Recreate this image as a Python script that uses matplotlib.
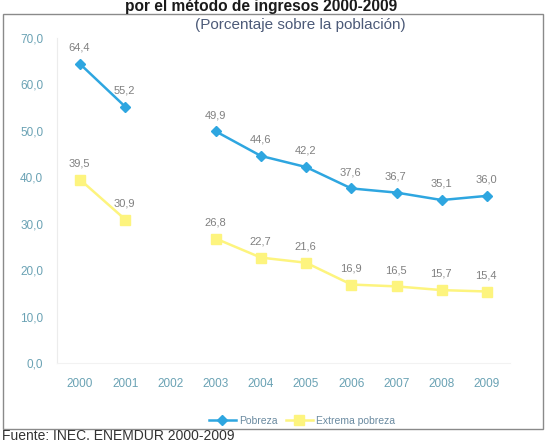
import numpy as np
import matplotlib
matplotlib.use("Agg")
import matplotlib.pyplot as plt
from matplotlib.patches import Rectangle

# data (2002 has no survey value)
years = [2000, 2001, 2002, 2003, 2004, 2005, 2006, 2007, 2008, 2009]
pobreza = [64.4, 55.2, np.nan, 49.9, 44.6, 42.2, 37.6, 36.7, 35.1, 36.0]
extrema = [39.5, 30.9, np.nan, 26.8, 22.7, 21.6, 16.9, 16.5, 15.7, 15.4]
yticks = [0, 10, 20, 30, 40, 50, 60, 70]

BLUE = '#2ea6e0'
YELLOW = '#fdf47e'
LABEL_GRAY = '#808080'
TICK_COL = '#6aa2b4'

W, H = 550, 443
fig = plt.figure(figsize=(W / 100, H / 100), dpi=100)
plt.rcParams['font.family'] = ['Liberation Sans', 'DejaVu Sans']

# outer frame of the pasted chart
fig.patches.append(Rectangle((3 / W, 1 - 429 / H), 540 / W, 415 / H,
                             transform=fig.transFigure, fill=False,
                             edgecolor='#8a8a8a', lw=1.0))

ax = fig.add_axes([57 / W, 80 / H, 453 / W, 325 / H])
ax.set_xlim(1999.49, 2009.51)
ax.set_ylim(0, 70)

ax.plot(years, pobreza, color=BLUE, lw=1.8, marker='D', ms=5.5, label='Pobreza')
ax.plot(years, extrema, color=YELLOW, lw=1.8, marker='s', ms=7, label='Extrema pobreza')

for xs, ys in [(years, pobreza), (years, extrema)]:
    for x, y in zip(xs, ys):
        if np.isnan(y):
            continue
        ax.annotate(f"{y:.1f}".replace('.', ','), (x, y), xytext=(-0.5, 8),
                    textcoords='offset points', ha='center', va='bottom',
                    fontsize=8, color=LABEL_GRAY)

ax.set_xticks(years)
ax.set_xticklabels([str(y) for y in years])
ax.set_yticks(yticks)
ax.set_yticklabels([f"{v:.1f}".replace('.', ',') for v in yticks])
ax.tick_params(axis='both', length=0, labelsize=8.5, labelcolor=TICK_COL)
ax.tick_params(axis='y', pad=10)
ax.tick_params(axis='x', pad=11)

for s in ['top', 'right']:
    ax.spines[s].set_visible(False)
ax.spines['left'].set_color('#ececec')
ax.spines['bottom'].set_color('#f2f2f2')

ax.legend(loc='center', bbox_to_anchor=(302 / W, 1 - 421 / H),
          bbox_transform=fig.transFigure, ncol=2, frameon=False,
          fontsize=7.5, labelcolor='#6a8aa0', handlelength=2.6,
          columnspacing=0.8, handletextpad=0.3)

fig.text(261 / W, 1 - 11 / H, 'por el método de ingresos 2000-2009',
         ha='center', va='baseline', fontsize=11.2, fontweight='bold', color='#1a1a1a')
fig.text(300 / W, 1 - 25 / H, '(Porcentaje sobre la población)',
         ha='center', va='center', fontsize=11, color='#4c5a78')
fig.text(2 / W, 1 - 436 / H, 'Fuente: INEC. ENEMDUR 2000-2009',
         ha='left', va='center', fontsize=10, color='#333333')

fig.savefig('out.png', dpi=100)
